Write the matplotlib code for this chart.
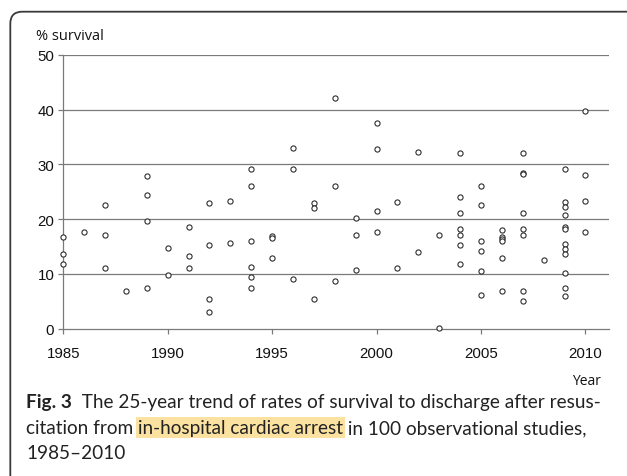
import matplotlib
matplotlib.use("Agg")
import matplotlib.pyplot as plt
from matplotlib.patches import FancyBboxPatch
from matplotlib.transforms import IdentityTransform

# survival (%) per study, grouped by publication year
years = [1985, 1986, 1987, 1988, 1989, 1990, 1991, 1992, 1993, 1994, 1995, 1996, 1997,
         1998, 1999, 2000, 2001, 2002, 2003, 2004, 2005, 2006, 2007, 2008, 2009, 2010]
survival = [
    [16.8, 13.7, 11.8],
    [17.7],
    [22.6, 17.2, 11.0],
    [6.8],
    [27.9, 24.4, 19.7, 7.4],
    [14.8, 9.8],
    [18.5, 13.3, 11.0],
    [22.9, 15.2, 5.4, 3.1],
    [23.4, 15.6],
    [29.1, 26.1, 16.0, 11.3, 9.5, 7.4],
    [17.0, 16.5, 13.0],
    [33.1, 29.2, 9.1],
    [22.9, 22.0, 5.4],
    [42.1, 26.1, 8.7],
    [20.2, 17.1, 10.7],
    [37.6, 32.8, 21.5, 17.7],
    [23.1, 11.1],
    [32.2, 14.1],
    [17.1, 0.1],
    [32.1, 24.1, 21.1, 18.2, 17.2, 15.2, 11.8],
    [26.1, 22.6, 16.1, 14.2, 10.5, 6.1],
    [18.1, 16.7, 16.3, 16.0, 12.9, 6.9],
    [32.1, 28.5, 28.3, 21.1, 18.2, 17.2, 6.8, 5.1],
    [12.5],
    [29.2, 23.1, 22.2, 20.8, 18.5, 18.2, 15.4, 14.6, 13.6, 10.1, 7.5, 6.0],
    [39.8, 28.1, 23.3, 17.6],
]
yticks = [0, 10, 20, 30, 40, 50]
xticks = [1985, 1990, 1995, 2000, 2005, 2010]

xs = [yr for yr, vals in zip(years, survival) for _ in vals]
ys = [v for vals in survival for v in vals]

W, H = 627, 477
fig = plt.figure(figsize=(W / 100, H / 100), dpi=100)
ax = fig.add_axes([63.3 / W, 1 - 329.7 / H, (609 - 63.3) / W, (329.7 - 56) / H])

grid_c = "#7a7a7a"
for v in yticks[1:]:
    ax.axhline(v, color=grid_c, lw=0.9, zorder=1)
ax.scatter(xs, ys, s=14, facecolors="white", edgecolors="#222222", linewidths=0.75, zorder=3,
           clip_on=False)

ax.set_xlim(1985, 2011.13)
ax.set_ylim(0, 50)
ax.set_xticks(xticks)
ax.set_yticks(yticks)
for side in ["top", "right"]:
    ax.spines[side].set_visible(False)
for side in ["left", "bottom"]:
    ax.spines[side].set_color(grid_c)
    ax.spines[side].set_linewidth(0.9)
ax.tick_params(axis="both", color=grid_c, width=0.9, length=3.5, direction="out",
               labelsize=10.8, labelcolor="#111111")
ax.tick_params(axis="x", pad=9)
ax.tick_params(axis="y", pad=3)
for lab in ax.get_xticklabels() + ax.get_yticklabels():
    lab.set_fontfamily("Liberation Sans")

fig.text(36 / W, 1 - 36 / H, "% survival", fontsize=10.5, family="Open Sans",
         va="center", ha="left", color="#111111")
fig.text(601 / W, 1 - 382 / H, "Year", fontsize=10, family="Open Sans",
         va="center", ha="right", color="#111111")

# rounded frame around the figure (open at right and bottom)
frame = FancyBboxPatch((10.3, -40), 660, H - 12.7 + 40,
                       boxstyle="round,pad=0,rounding_size=12",
                       transform=IdentityTransform(), fill=False,
                       edgecolor="#3a3a3a", linewidth=1.3)
fig.patches.append(frame)

# caption, drawn piece by piece
cap_font = dict(family="Lato", fontsize=13.7, color="#222222", va="baseline")
renderer = fig.canvas.get_renderer()


def put_pieces(x, y, pieces):
    for txt, extra in pieces:
        t = fig.text(x / W, 1 - y / H, txt, **{**cap_font, **extra})
        bb = t.get_window_extent(renderer)
        x = bb.x1


cap_x = 26
put_pieces(cap_x, 408, [("Fig. 3", {"weight": "bold"}),
                        ("  The 25-year trend of rates of survival to discharge after resus-", {})])
put_pieces(cap_x, 434, [("citation from ", {}),
                        ("in-hospital cardiac arrest",
                         {"bbox": dict(boxstyle="square,pad=0.12", facecolor="#fbe2a0",
                                       edgecolor="none")}),
                        (" in 100 observational studies,", {})])
put_pieces(cap_x, 459, [("1985\u20132010", {})])

fig.savefig("out.png", dpi=100)
